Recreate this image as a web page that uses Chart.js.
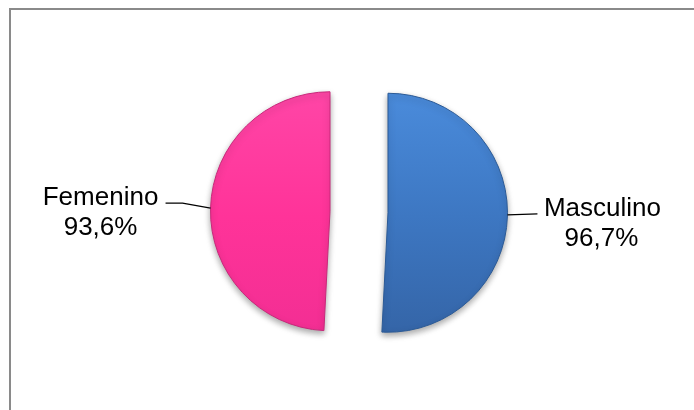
<!DOCTYPE html>
<html>
<head>
<meta charset="utf-8">
<script src="https://cdn.jsdelivr.net/npm/chart.js@4.4.1/dist/chart.umd.min.js"></script>
<style>
  html, body { margin: 0; padding: 0; background: #fff; }
  #wrap { position: relative; width: 694px; height: 410px; }
  #frame { position: absolute; left: 9px; top: 8px; right: 0; bottom: 0;
    border-top: 2px solid #8a8a8a; border-left: 2px solid #8a8a8a; }
  canvas { position: absolute; left: 0; top: 0; }
</style>
</head>
<body>
<div id="wrap">
  <div id="frame"></div>
  <canvas id="pie" width="694" height="410"></canvas>
</div>
<script>
// data
const categories = ['Masculino', 'Femenino'];
const values = [96.7, 93.6];

const explode = 29;   // px each slice is pulled out

function pct(v) { return v.toFixed(1).replace('.', ',') + '%'; }

function sliceFill(context) {
  const chart = context.chart;
  const area = chart.chartArea;
  if (!area) return null;
  const ctx = chart.ctx;
  const g = ctx.createLinearGradient(0, area.top + 80, 0, area.bottom - 70);
  if (context.dataIndex === 0) {
    g.addColorStop(0, '#4a8bdb');
    g.addColorStop(0.5, '#3d77c2');
    g.addColorStop(1, '#3464a6');
  } else {
    g.addColorStop(0, '#ff45a6');
    g.addColorStop(0.5, '#ff3399');
    g.addColorStop(1, '#f22e93');
  }
  return g;
}

// pull slices out along their bisectors
const explodePlugin = {
  id: 'explode',
  afterDatasetsUpdate(chart) {
    chart.getDatasetMeta(0).data.forEach(arc => {
      const mid = (arc.startAngle + arc.endAngle) / 2;
      arc.x += Math.cos(mid) * explode;
      arc.y += Math.sin(mid) * explode;
    });
  }
};

const shadowPlugin = {
  id: 'shadow',
  beforeDatasetsDraw(chart) {
    const ctx = chart.ctx;
    ctx.save();
    ctx.shadowColor = 'rgba(0,0,0,0.35)';
    ctx.shadowBlur = 6;
    ctx.shadowOffsetY = 3;
  },
  afterDatasetsDraw(chart) {
    chart.ctx.restore();
  }
};

// outside labels with leader lines
const labelPlugin = {
  id: 'sliceLabels',
  afterDraw(chart) {
    const ctx = chart.ctx;
    const arcs = chart.getDatasetMeta(0).data;
    ctx.save();
    ctx.font = '26px "Liberation Sans", Arial, sans-serif';
    ctx.fillStyle = '#000';
    ctx.strokeStyle = '#000';
    ctx.lineWidth = 1.3;
    ctx.textAlign = 'center';
    ctx.textBaseline = 'alphabetic';
    arcs.forEach((arc, i) => {
      const mid = (arc.startAngle + arc.endAngle) / 2;
      const px = arc.x + Math.cos(mid) * arc.outerRadius;
      const py = arc.y + Math.sin(mid) * arc.outerRadius;
      ctx.beginPath();
      if (i === 0) {
        ctx.moveTo(px, py - 1);
        ctx.lineTo(px + 30, py - 2);
        ctx.stroke();
        ctx.fillText(categories[i], px + 95, py);
        ctx.fillText(pct(values[i]), px + 94, py + 30);
      } else {
        ctx.moveTo(px, py);
        ctx.lineTo(px - 28, py - 5);
        ctx.lineTo(px - 45, py - 5);
        ctx.stroke();
        ctx.fillText(categories[i], px - 110, py - 3);
        ctx.fillText(pct(values[i]), px - 110, py + 27);
      }
    });
    ctx.restore();
  }
};

new Chart(document.getElementById('pie'), {
  type: 'pie',
  data: {
    labels: categories,
    datasets: [{
      data: values,
      backgroundColor: sliceFill,
      borderColor: ['#2b5a96', '#c8287a'],
      borderWidth: 1
    }]
  },
  options: {
    responsive: false,
    animation: false,
    radius: 119.5,
    rotation: 0,
    layout: { padding: { left: 24, right: 0, top: 14, bottom: 0 } },
    plugins: {
      legend: { display: false },
      tooltip: { enabled: false }
    }
  },
  plugins: [explodePlugin, shadowPlugin, labelPlugin]
});
</script>
</body>
</html>
